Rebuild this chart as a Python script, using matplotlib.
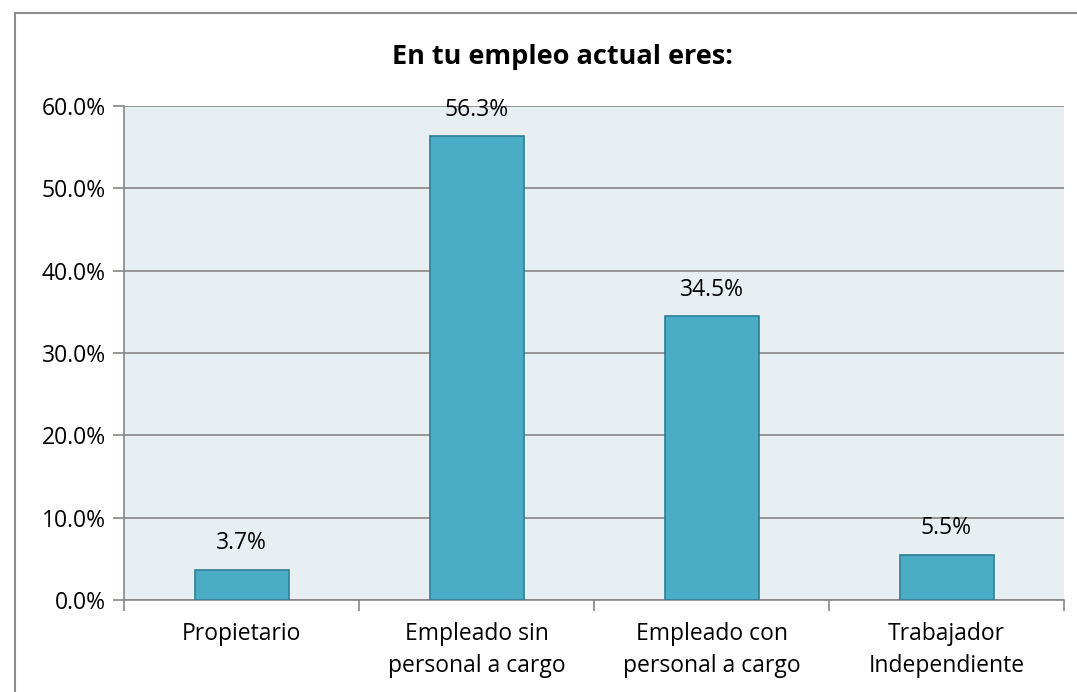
import matplotlib
matplotlib.use("Agg")
import matplotlib.pyplot as plt
from matplotlib.ticker import PercentFormatter, FixedLocator
from matplotlib.patches import Rectangle

categories = ["Propietario", "Empleado sin\npersonal a cargo", "Empleado con\npersonal a cargo", "Trabajador\nIndependiente"]
values = [3.7, 56.3, 34.5, 5.5]
yticks = [0, 10, 20, 30, 40, 50, 60]
title = "En tu empleo actual eres:"

plt.rcParams['font.family'] = ['Open Sans', 'DejaVu Sans']

fig = plt.figure(figsize=(10.77, 6.92), dpi=100)
fig.patch.set_facecolor("white")
fig.add_artist(Rectangle((15/1077, -0.05), 1.2, 1 - 13/692 + 0.05, transform=fig.transFigure,
                         fill=False, edgecolor="#8c8c8c", linewidth=1.5))

ax = fig.add_axes([124/1077, 1 - 600/692, 940/1077, 494/692])
ax.set_facecolor("#E8EFF3")
x = range(len(categories))
bars = ax.bar(x, values, width=0.4, color="#4BACC6", edgecolor="#2F7F95", linewidth=1.2, zorder=3)
for xi, v in zip(x, values):
    ax.annotate(f"{v:.1f}%", (xi, v), xytext=(0, 19), textcoords="offset points",
                ha="center", va="center", fontsize=16.5, color="black", zorder=4)

ax.set_xlim(-0.5, len(categories) - 0.5)
ax.set_ylim(0, 60)
ax.set_yticks(yticks)
ax.yaxis.set_major_formatter(PercentFormatter(decimals=1))
ax.grid(axis="y", color="#868686", linewidth=1.2, zorder=1)
ax.set_axisbelow(True)

ax.set_xticks(list(x))
ax.set_xticklabels(categories, fontsize=16.5, color="black", linespacing=1.45)
ax.tick_params(axis="x", length=0, pad=16)
ax.xaxis.set_minor_locator(FixedLocator([i - 0.5 for i in range(len(categories) + 1)]))
ax.tick_params(axis="x", which="minor", length=8, width=1.2, color="#868686")
ax.tick_params(axis="y", length=8, width=1.2, color="#868686", labelsize=16.5, labelcolor="black", pad=5)

for s in ["top", "right"]:
    ax.spines[s].set_visible(False)
ax.spines["left"].set_color("#868686")
ax.spines["left"].set_linewidth(1.2)
ax.spines["bottom"].set_color("#868686")
ax.spines["bottom"].set_linewidth(1.2)

fig.text(562/1077, 1 - 57/692, title, ha="center", va="center", fontsize=19.5, fontweight="bold", color="black")

fig.savefig("out.png", dpi=100)
